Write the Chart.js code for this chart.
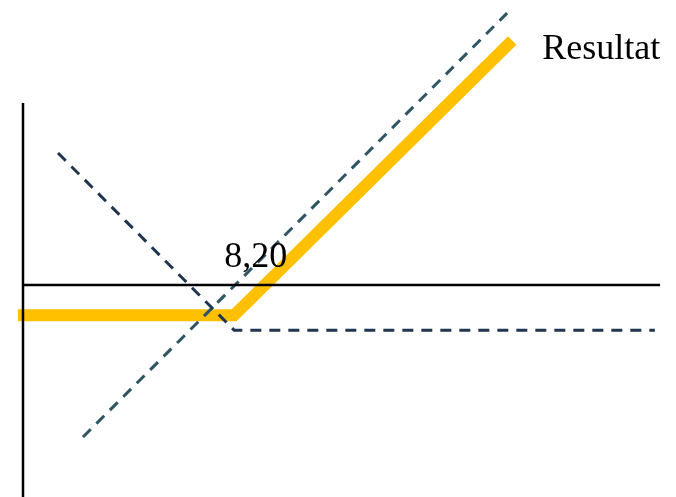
<!DOCTYPE html>
<html>
<head>
<meta charset="utf-8">
<script src="https://cdn.jsdelivr.net/npm/chart.js@4/dist/chart.umd.min.js"></script>
<style>
  html, body { margin: 0; padding: 0; background: #fff; }
  #wrap { width: 676px; height: 497px; position: relative; }
</style>
</head>
<body>
<div id="wrap"><canvas id="c"></canvas></div>
<script>
// Synthetic call payoff: stock + bought put = result line. Prices in kr.
const STRIKE = 8.2;
const STRIKE_LABEL = "8,20";
const RESULT_LABEL = "Resultat";

// [price, profit] points
const resultLine = [[-0.2, -1.17], [8.2, -1.17], [19.0, 9.5]];
const putLine    = [[1.36, 5.13], [8.2, -1.75], [24.54, -1.75]];
const stockLine  = [[2.33, -5.9], [18.8, 10.56]];
const yAxisLine  = [[0, 7.07], [0, -8.4]];
const xAxisLine  = [[0, 0], [24.74, 0]];

const pts = (a) => a.map(([x, y]) => ({ x, y }));

const labels = {
  id: "labels",
  afterDatasetsDraw(chart) {
    const { ctx, scales: { x, y } } = chart;
    ctx.save();
    ctx.fillStyle = "#000";
    ctx.font = '36px "Liberation Serif", "DejaVu Serif", serif';
    ctx.textAlign = "left";
    ctx.textBaseline = "alphabetic";
    ctx.fillText(STRIKE_LABEL, x.getPixelForValue(STRIKE) - 10, y.getPixelForValue(0) - 18);
    const end = resultLine[resultLine.length - 1];
    ctx.fillText(RESULT_LABEL, x.getPixelForValue(end[0]) + 30, y.getPixelForValue(end[1]) + 19);
    ctx.restore();
  },
};

const line = (data, color, width, dash) => ({
  data: pts(data), borderColor: color, borderWidth: width, borderDash: dash || [],
  pointRadius: 0, showLine: true, fill: false, tension: 0,
  borderCapStyle: "butt", borderJoinStyle: "miter",
});

new Chart(document.getElementById("c"), {
  type: "scatter",
  data: {
    datasets: [
      line(yAxisLine, "#000", 2.5),
      line(xAxisLine, "#000", 2.5),
      line(putLine, "#1f3550", 3, [11, 8]),
      line(stockLine, "#2d5564", 3, [11, 8]),
      line(resultLine, "#ffc000", 12),
    ],
  },
  options: {
    responsive: true, maintainAspectRatio: false, animation: false,
    layout: { padding: 0 },
    plugins: { legend: { display: false }, tooltip: { enabled: false } },
    scales: {
      x: { type: "linear", display: false, min: -0.893, max: 25.36 },
      y: { type: "linear", display: false, min: -8.23, max: 11.07 },
    },
  },
  plugins: [labels],
});
</script>
</body>
</html>
